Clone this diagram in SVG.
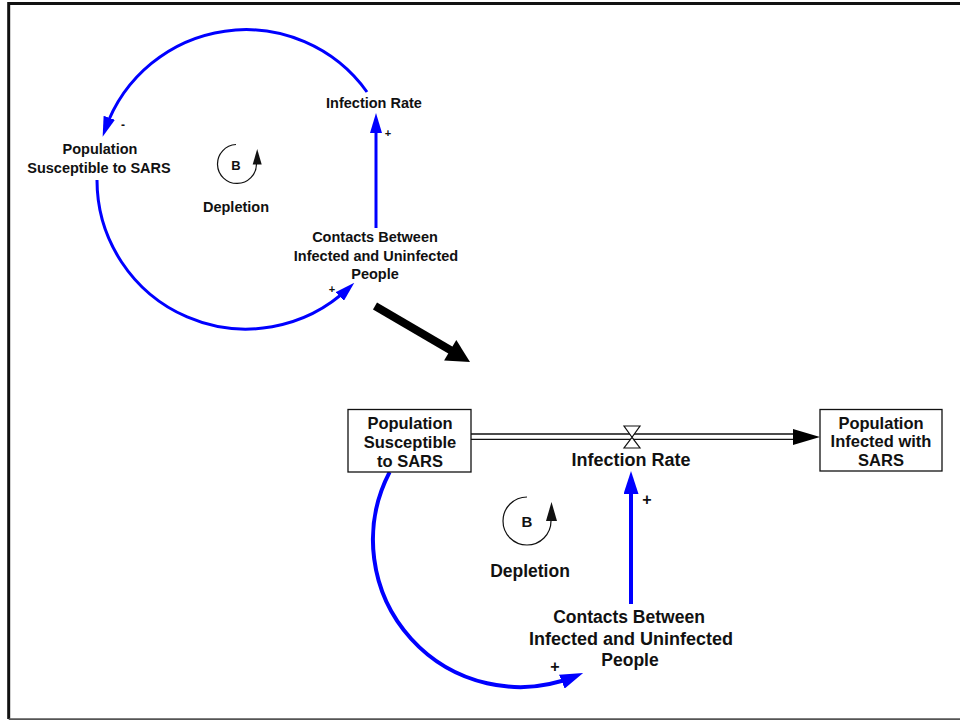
<svg xmlns="http://www.w3.org/2000/svg" width="960" height="721" viewBox="0 0 960 721">
  <style>
    .lbl { font-family: "Liberation Sans", Arial, sans-serif; font-weight: bold; fill: #111; text-anchor: middle; }
    .sm { font-size: 14.5px; }
    .lg { font-size: 17.5px; }
    .xl { font-size: 18px; }
    .bx { font-size: 16.5px; }
    .sign { font-family: "Liberation Sans", Arial, sans-serif; font-weight: bold; fill: #111; text-anchor: middle; }
    .link-s { fill: none; stroke: #0000ff; stroke-width: 3; }
    .link-l { fill: none; stroke: #0000ff; stroke-width: 4; }
    .loop { fill: none; stroke: #111; stroke-width: 1.2; }
    .stock { fill: #fff; stroke: #111; stroke-width: 1.3; }
  </style>
  <defs>
    <marker id="headS" markerUnits="userSpaceOnUse" markerWidth="20" markerHeight="12" refX="12" refY="6" orient="auto">
      <path d="M0,0 L20,6 L0,12 z" fill="#0000ff"/>
    </marker>
    <marker id="headL" markerUnits="userSpaceOnUse" markerWidth="23" markerHeight="15" refX="14" refY="7.5" orient="auto">
      <path d="M0,0 L23,7.5 L0,15 z" fill="#0000ff"/>
    </marker>
  </defs>

  <rect width="960" height="721" fill="#fff"/>
  <!-- frame -->
  <path d="M962,3.4 L8.7,3.4 L8.7,719" fill="none" stroke="#111" stroke-width="3"/>
  <path d="M8.7,719.2 L962,719.2" fill="none" stroke="#555" stroke-width="1.8"/>

  <!-- ===== causal loop diagram (top) ===== -->
  <g id="connectors-top">
    <path class="link-s" d="M367,92 A149,149 0 0,0 105.3,129.1" marker-end="url(#headS)"/>
    <path class="link-s" d="M97,180 A149,149 0 0,0 348.5,288.2" marker-end="url(#headS)"/>
    <path class="link-s" d="M376,228 L376,121" marker-end="url(#headS)"/>
    <text class="sign" x="123" y="129" font-size="12">-</text>
    <text class="sign" x="388" y="137" font-size="11">+</text>
    <text class="sign" x="332" y="293" font-size="11">+</text>
  </g>

  <g id="top-infection-rate">
    <text class="lbl sm" x="374" y="108">Infection Rate</text>
  </g>
  <g id="top-population-susceptible">
    <text class="lbl sm" x="100" y="154">Population</text>
    <text class="lbl sm" x="99" y="173">Susceptible to SARS</text>
  </g>
  <g id="top-contacts">
    <text class="lbl sm" x="375" y="242">Contacts Between</text>
    <text class="lbl sm" x="376" y="261">Infected and Uninfected</text>
    <text class="lbl sm" x="375" y="279">People</text>
  </g>
  <g id="top-loop-depletion">
    <path class="loop" d="M236,144.5 A19.5,19.5 0 1,0 256.5,164"/>
    <polygon points="257.2,149 252.7,164.5 261.7,164.5" fill="#111"/>
    <text class="lbl" x="236" y="170" font-size="13">B</text>
    <text class="lbl sm" x="236" y="212">Depletion</text>
  </g>

  <!-- transition arrow -->
  <g id="transition-arrow">
    <path d="M375,306 L452,351" stroke="#000" stroke-width="8" fill="none"/>
    <polygon points="470,362 444.1,360.6 456.3,340" fill="#000"/>
  </g>

  <!-- ===== stock and flow diagram (bottom) ===== -->
  <g id="connectors-bottom">
    <!-- flow pipe -->
    <path d="M471,434 L796,434 M471,439.3 L796,439.3" stroke="#111" stroke-width="1.3" fill="none"/>
    <polygon points="820,437 793,429 793,445" fill="#000"/>
    <!-- information links -->
    <path class="link-l" d="M389.6,472.1 A147,147 0 0,0 574.8,676.4" marker-end="url(#headL)"/>
    <path class="link-l" d="M631,604 L631,480" marker-end="url(#headL)"/>
    <text class="sign" x="647" y="505" font-size="16">+</text>
    <text class="sign" x="555" y="672" font-size="16">+</text>
  </g>

  <g id="stock-susceptible">
    <rect class="stock" x="348" y="409.5" width="123" height="62.5"/>
    <text class="lbl bx" x="410" y="429">Population</text>
    <text class="lbl bx" x="410" y="448">Susceptible</text>
    <text class="lbl bx" x="410" y="467">to SARS</text>
  </g>

  <g id="stock-infected">
    <rect class="stock" x="820" y="409.5" width="122" height="61.5"/>
    <text class="lbl bx" x="881" y="429">Population</text>
    <text class="lbl bx" x="881" y="447">Infected with</text>
    <text class="lbl bx" x="881" y="466">SARS</text>
  </g>

  <g id="flow-infection-rate">
    <path d="M624,426 L640,426 L632,437.3 Z M632,437.3 L624,448 L640,448 Z" fill="#fff" stroke="#111" stroke-width="1.2"/>
    <text class="lbl xl" x="631" y="466">Infection Rate</text>
  </g>

  <g id="contacts">
    <text class="lbl lg" x="629" y="623">Contacts Between</text>
    <text class="lbl xl" x="631" y="645">Infected and Uninfected</text>
    <text class="lbl lg" x="630" y="666">People</text>
  </g>

  <g id="loop-depletion">
    <path class="loop" d="M527,497 A24,24 0 1,0 551,521"/>
    <polygon points="551.5,502 546,521 557,521" fill="#111"/>
    <text class="lbl" x="527" y="527" font-size="15">B</text>
    <text class="lbl lg" x="530" y="577">Depletion</text>
  </g>
</svg>
